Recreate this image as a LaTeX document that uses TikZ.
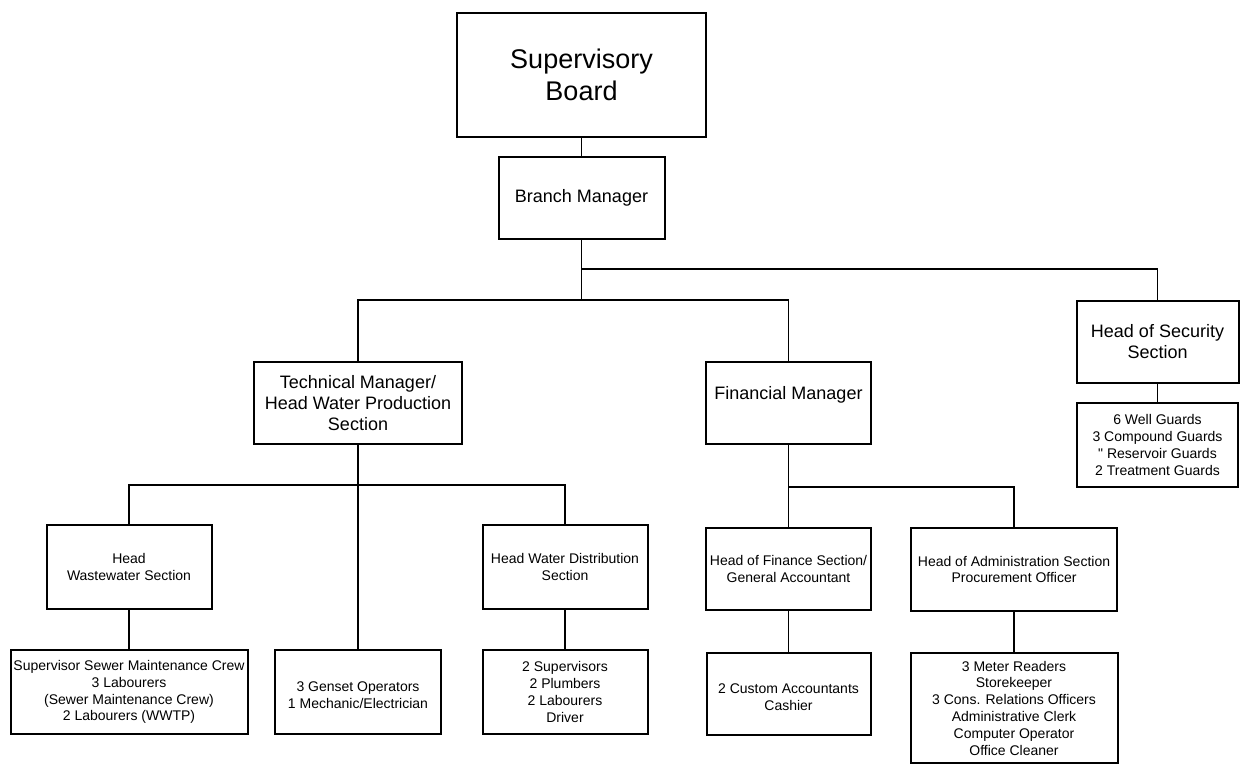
\documentclass[tikz,border=0pt]{standalone}
\usepackage{fontspec}
\setmainfont{Liberation Sans}
\usetikzlibrary{positioning}

\begin{document}
\begin{tikzpicture}[x=0.5pt, y=-0.5pt, node distance=0cm, outer sep=0pt,
    unit/.style={draw, line width=1pt, align=center, inner sep=0pt,
      font=\fontsize{9}{10.5}\selectfont},
    staff/.style={unit, font=\fontsize{7}{8.4}\selectfont},
    link/.style={line width=0.6pt}]
    \useasboundingbox (0,0) rectangle (1245,765);

    % Board
    \node[unit, font=\fontsize{13.5}{16}\selectfont, minimum width=124.5pt, minimum height=62pt] (board) at (581.5,75) {Supervisory\\Board};
    \node[unit, minimum width=83pt, minimum height=41pt, below=of board, yshift=-10pt] (branch) {Branch Manager};

    % Managers
    \node[unit, minimum width=104pt, minimum height=41pt] (tech) at (358,403) {Technical Manager/\\Head Water Production\\Section};
    \node[unit, minimum width=82.5pt, minimum height=41pt] (finance) at (788.5,403) {Financial Manager\\\mbox{}};
    \node[unit, minimum width=81pt, minimum height=41pt] (security) at (1157.5,342) {Head of Security\\Section};
    \node[staff, minimum width=80.5pt, minimum height=42pt, below=of security, yshift=-10pt] (guards) {6 Well Guards\\3 Compound Guards\\\textquotedbl{} Reservoir Guards\\2 Treatment Guards};

    % Sections
    \node[staff, minimum width=82.5pt, minimum height=42pt] (waste) at (129,567) {Head\\Wastewater Section};
    \node[staff, minimum width=82.5pt, minimum height=42pt] (distribution) at (565,567) {Head Water Distribution\\Section};
    \node[staff, minimum width=82.5pt, minimum height=41pt] (accounts) at (788.5,569) {Head of Finance Section/\\General Accountant};
    \node[staff, minimum width=103pt, minimum height=41.5pt] (admin) at (1014,569.5) {Head of Administration Section\\Procurement Officer};

    % Staff
    \node[staff, minimum width=118.5pt, minimum height=42pt, below=of waste, yshift=-20.5pt] (sewercrew) {Supervisor Sewer Maintenance Crew\\3 Labourers\\(Sewer Maintenance Crew)\\2 Labourers (WWTP)};
    \node[staff, minimum width=83pt, minimum height=42pt] (genset) at (358,692) {\mbox{}\\3 Genset Operators\\1 Mechanic/Electrician};
    \node[staff, minimum width=82.5pt, minimum height=42pt, below=of distribution, yshift=-20.5pt] (plumbing) {2 Supervisors\\2 Plumbers\\2 Labourers\\Driver};
    \node[staff, minimum width=82pt, minimum height=41pt, below=of accounts, yshift=-21.5pt] (cashier) {\mbox{}\\2 Custom Accountants\\Cashier};
    \node[staff, minimum width=103.5pt, minimum height=55pt, below=of admin, yshift=-21pt] (office) {3 Meter Readers\\Storekeeper\\3 Cons. Relations Officers\\Administrative Clerk\\Computer Operator\\Office Cleaner};

    % Lines
    \coordinate (hub) at (581.5,300);
    \coordinate (sechub) at (581.5,269);
    \coordinate (techhub) at (358,485);
    \coordinate (finhub) at (788.5,487);
    \draw[link] (board) -- (branch);
    \draw[link] (branch) -- (hub);
    \draw[link] (sechub) -| (security);
    \draw[link] (tech) |- (hub) -| (finance);
    \draw[link] (security) -- (guards);
    \draw[link] (tech) -- (genset);
    \draw[link] (waste) |- (techhub) -| (distribution);
    \draw[link] (finance) -- (accounts);
    \draw[link] (finhub) -| (admin);
    \draw[link] (waste) -- (sewercrew);
    \draw[link] (distribution) -- (plumbing);
    \draw[link] (accounts) -- (cashier);
    \draw[link] (admin) -- (office);
\end{tikzpicture}
\end{document}
